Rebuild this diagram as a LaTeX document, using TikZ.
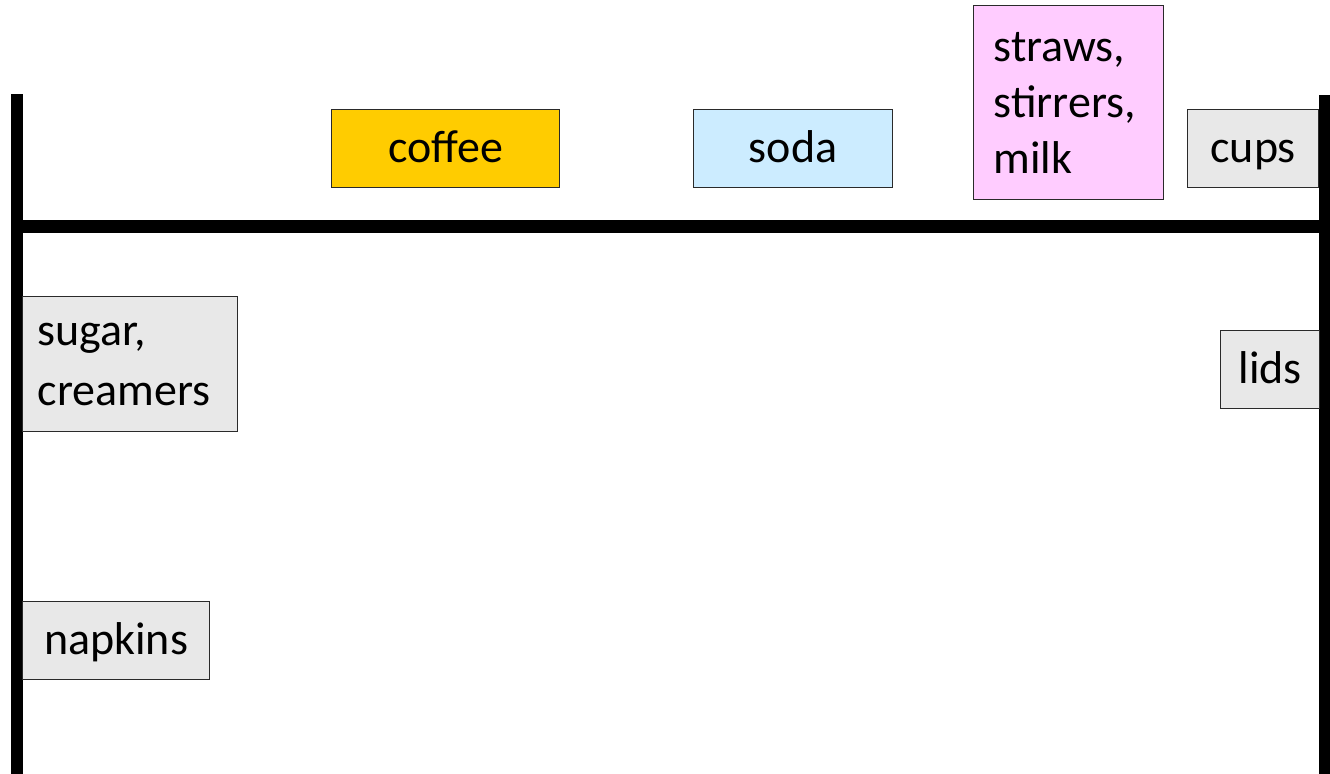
\documentclass[tikz,border=0pt]{standalone}
\usepackage{fontspec}
\setmainfont{Carlito}
\definecolor{coffeefill}{HTML}{FFCC00}
\definecolor{sodafill}{HTML}{CCECFF}
\definecolor{strawfill}{HTML}{FFCCFF}
\definecolor{supplyfill}{HTML}{E8E8E8}
\definecolor{edgegray}{HTML}{2A2A2A}
\begin{document}
\begin{tikzpicture}[x=1bp,y=-1bp,
  wall/.style={line width=12.5bp, black},
  item/.style={draw=edgegray, line width=1.3bp, rectangle, anchor=north west,
    font=\fontsize{46bp}{56bp}\selectfont, inner sep=0pt},
  oneline/.style={item, text height=34bp, text depth=6bp},
  multiitem/.style={item, align=left, inner xsep=#1}
]
\useasboundingbox (0,0) rectangle (1330,773);

% counter walls: left side, back rail and right side
\coordinate (lefttop) at (17,94);
\coordinate (leftbot) at (17,780);
\coordinate (railL) at (11,226.5);
\coordinate (railR) at (1340,226.5);
\coordinate (righttop) at (1325,95);
\coordinate (rightbot) at (1325,780);
\draw[wall] (lefttop) -- (leftbot);
\draw[wall] (righttop) -- (rightbot);
\draw[wall] (railL) -- (railR);

% items along the back rail
\node[oneline, fill=coffeefill, minimum width=228bp, minimum height=78bp] (coffee) at (331,109) {coffee};
\node[oneline, fill=sodafill, minimum width=199bp, minimum height=78bp] (soda) at (693,109) {soda};
\node[multiitem=20bp, fill=strawfill, text width=150bp, minimum height=194bp] (straws) at (973,5)
  {straws,\\stirrers,\\milk};
\node[oneline, fill=supplyfill, minimum width=131bp, minimum height=78bp] (cups) at (1187,109) {cups};

% items along the side walls
\node[multiitem=15bp, fill=supplyfill, text width=185bp, minimum height=135bp,
  font=\fontsize{46bp}{60bp}\selectfont] (sugar) at (22,296) {sugar,\\creamers};
\node[oneline, fill=supplyfill, minimum width=99bp, minimum height=78bp] (lids) at (1220,330) {lids};
\node[oneline, fill=supplyfill, minimum width=187bp, minimum height=78bp] (napkins) at (22,601) {napkins};
\end{tikzpicture}
\end{document}
